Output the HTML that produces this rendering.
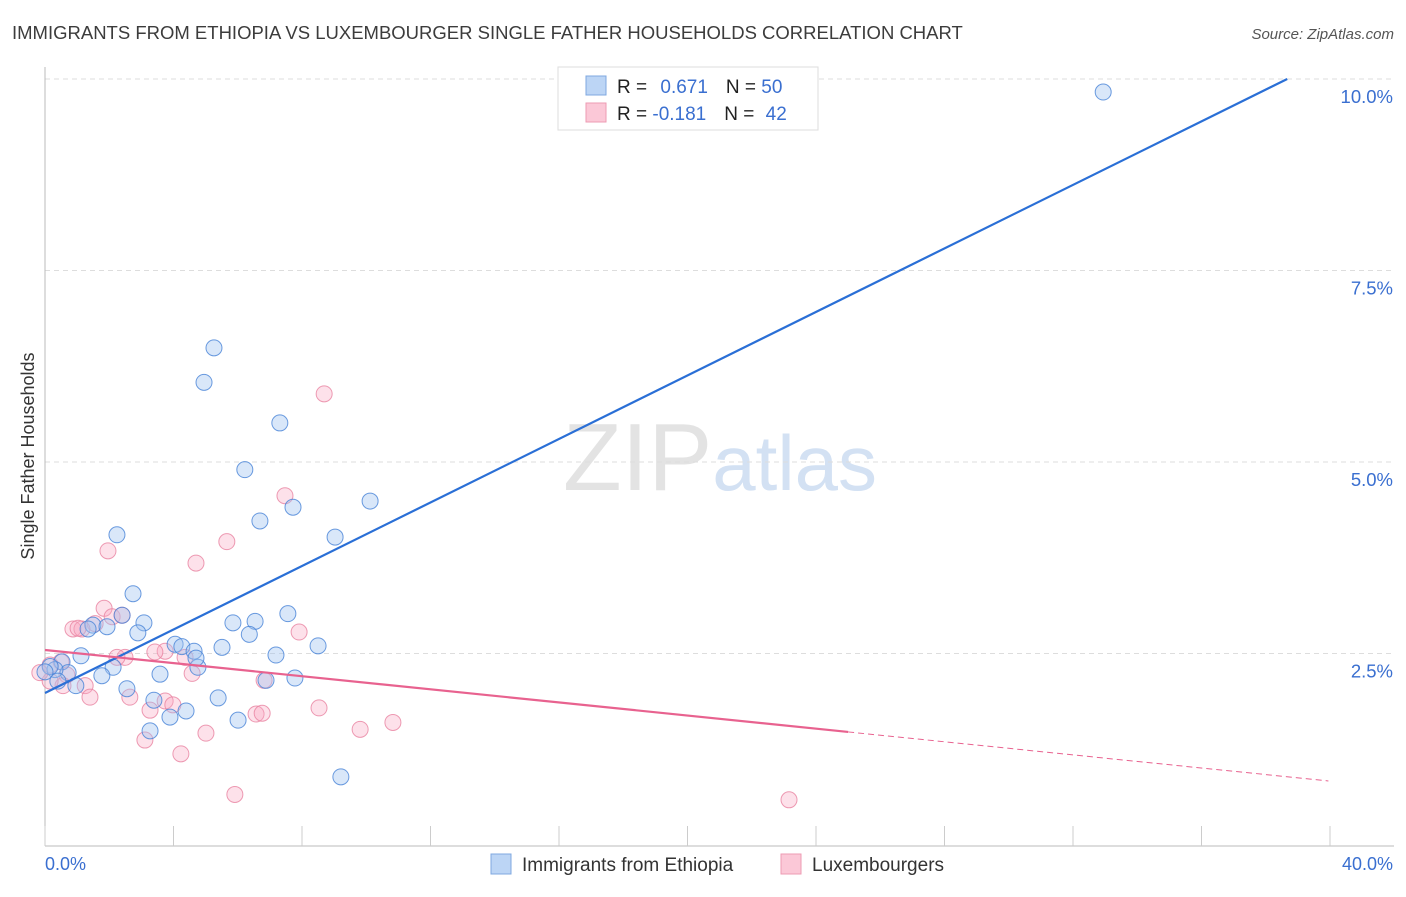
<!DOCTYPE html>
<html><head><meta charset="utf-8"><style>
body{margin:0;background:#fff;font-family:"Liberation Sans",sans-serif;}
svg text{font-family:"Liberation Sans",sans-serif;}
</style></head><body>
<svg id="chart" width="1406" height="892" viewBox="0 0 1406 892" xmlns="http://www.w3.org/2000/svg">
<text x="12" y="39" font-size="18.5" fill="#3c3c3c">IMMIGRANTS FROM ETHIOPIA VS LUXEMBOURGER SINGLE FATHER HOUSEHOLDS CORRELATION CHART</text>
<text x="1394" y="39" font-size="15" fill="#555" text-anchor="end" font-style="italic">Source: ZipAtlas.com</text>
<text x="720" y="490" font-size="96" text-anchor="middle" fill="#e3e3e3" font-family="Liberation Serif"><tspan>ZIP</tspan><tspan fill="#d3e1f3" font-family="Liberation Sans" font-size="78">atlas</tspan></text>
<text transform="translate(34,456) rotate(-90)" font-size="18" fill="#333" text-anchor="middle">Single Father Households</text>
<g id="grid"></g>
<g id="axes"></g>
<g id="points"></g>
<g id="lines"></g>
<g>
<rect x="558" y="67" width="260" height="63" fill="#fff" stroke="#ddd"/>
<rect x="586" y="76" width="20" height="19" fill="#bcd5f5" stroke="#7fa8e0"/>
<rect x="586" y="103" width="20" height="19" fill="#fbc8d7" stroke="#ee9bb3"/>
<text x="617" y="93" font-size="19" fill="#222">R = <tspan fill="#3a6fd0" dx="8">0.671</tspan><tspan fill="#222" dx="18">N = </tspan><tspan fill="#3a6fd0">50</tspan></text>
<text x="617" y="120" font-size="19" fill="#222">R = <tspan fill="#3a6fd0">-0.181</tspan><tspan fill="#222" dx="18">N = </tspan><tspan fill="#3a6fd0" dx="6">42</tspan></text>
</g>
<g>
<rect x="491" y="854" width="20" height="20" fill="#bcd5f5" stroke="#7fa8e0"/>
<text x="522" y="871" font-size="19" fill="#333">Immigrants from Ethiopia</text>
<rect x="781" y="854" width="20" height="20" fill="#fbc8d7" stroke="#ee9bb3"/>
<text x="812" y="871" font-size="19" fill="#333">Luxembourgers</text>
</g>
</svg>
<script>
const xTicksLabels=["0.0%","40.0%"];
const yTickValues=[2.5,5.0,7.5,10.0];
const yTickLabels=["2.5%","5.0%","7.5%","10.0%"];
const blueX=[32.94,5.26,4.95,7.31,6.22,10.12,7.72,6.69,2.24,9.03,2.74,7.56,2.40,3.08,5.85,6.54,1.49,1.93,2.89,6.36,4.05,4.26,4.64,5.51,8.50,1.12,7.19,0.53,4.76,2.12,3.58,1.77,6.88,7.78,0.72,0.31,2.55,5.39,3.39,0.96,4.39,3.89,6.01,3.27,9.21,0.16,0.40,1.34,4.70,0.00];
const blueY=[9.83,6.49,6.04,5.51,4.90,4.49,4.41,4.23,4.05,4.02,3.28,3.02,3.00,2.90,2.90,2.92,2.87,2.85,2.77,2.75,2.62,2.59,2.53,2.58,2.60,2.47,2.48,2.39,2.32,2.32,2.23,2.21,2.15,2.18,2.25,2.29,2.04,1.92,1.89,2.08,1.75,1.67,1.63,1.49,0.89,2.33,2.14,2.82,2.44,2.26];
const pinkX=[8.69,7.47,5.66,1.96,4.70,1.84,2.09,2.40,1.56,0.87,1.15,7.91,2.49,2.24,3.74,3.42,4.36,1.03,0.50,0.16,0.68,1.25,1.40,2.64,4.58,3.74,3.98,8.53,10.83,9.81,3.27,6.82,6.57,6.76,3.11,5.01,4.23,5.91,23.16,0.56,0.16,-0.16];
const pinkY=[5.89,4.56,3.96,3.84,3.68,3.09,2.98,3.00,2.89,2.82,2.82,2.78,2.45,2.45,2.53,2.52,2.45,2.83,2.39,2.35,2.22,2.08,1.93,1.93,2.24,1.88,1.83,1.79,1.60,1.51,1.76,2.15,1.71,1.72,1.37,1.46,1.19,0.66,0.59,2.08,2.14,2.25];
const blueTrend=[1.984,0.2073];
const pinkTrend=[2.546,-0.0428];
const X0=45,X1=1330,Y0=845,YTOP=79;
function sx(v){return X0+(v/40)*(X1-X0);}
function sy(v){return Y0-(v/10)*(Y0-YTOP);}
const NS="http://www.w3.org/2000/svg";
function mk(tag,attrs,parent){const e=document.createElementNS(NS,tag);for(const k in attrs)e.setAttribute(k,attrs[k]);parent.appendChild(e);return e;}
const grid=document.getElementById('grid'),axes=document.getElementById('axes'),pts=document.getElementById('points'),lines=document.getElementById('lines');
yTickValues.forEach((v,i)=>{
 const l=mk('line',{x1:X0,x2:1394,y1:sy(v),y2:sy(v),stroke:'#ddd','stroke-dasharray':'5,4'},grid);
 
 
 const t=mk('text',{x:1393,y:sy(v)+24,'font-size':18.5,fill:'#3a6fd0','text-anchor':'end'},axes);
 t.textContent=yTickLabels[i];
 
 
});
const ya=mk('line',{x1:X0,x2:X0,y1:67,y2:846,stroke:'#bbb'},axes);


const xa=mk('line',{x1:X0,x2:1394,y1:846,y2:846,stroke:'#bbb'},axes);


for(let i=0;i<=10;i++){const x=sx(i*4);const tk=mk('line',{x1:x,x2:x,y1:826,y2:846,stroke:'#ccc'},axes);
 
 }
const xl0=mk('text',{x:45,y:870,'font-size':18,fill:'#3a6fd0'},axes);xl0.textContent=xTicksLabels[0];


const xl1=mk('text',{x:1393,y:870,'font-size':18,fill:'#3a6fd0','text-anchor':'end'},axes);xl1.textContent=xTicksLabels[1];


pinkX.forEach((v,i)=>{const c=mk('circle',{cx:sx(v),cy:sy(pinkY[i]),r:8,fill:'rgba(248,170,195,0.35)',stroke:'rgba(232,130,160,0.8)','stroke-width':1},pts);
 
 });
blueX.forEach((v,i)=>{const c=mk('circle',{cx:sx(v),cy:sy(blueY[i]),r:8,fill:'rgba(160,195,240,0.4)',stroke:'rgba(70,130,215,0.8)','stroke-width':1},pts);
 
 });
const bxEnd=(10-blueTrend[0])/blueTrend[1];
const bl=mk('line',{x1:sx(0),y1:sy(blueTrend[0]),x2:sx(bxEnd),y2:sy(10),stroke:'#2a6fd6','stroke-width':2.2},lines);


const pl=mk('line',{x1:sx(0),y1:sy(pinkTrend[0]),x2:sx(25),y2:sy(pinkTrend[0]+25*pinkTrend[1]),stroke:'#e8628f','stroke-width':2.2},lines);


const pd=mk('line',{x1:sx(25),y1:sy(pinkTrend[0]+25*pinkTrend[1]),x2:sx(39.95),y2:sy(pinkTrend[0]+39.95*pinkTrend[1]),stroke:'#e8628f','stroke-width':1,'stroke-dasharray':'6,4'},lines);


</script>
</body></html>
